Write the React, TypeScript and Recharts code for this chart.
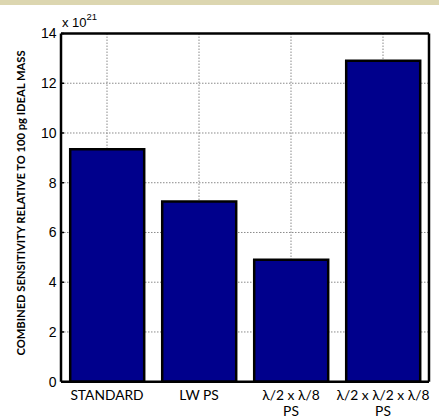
import React from 'react';
import { BarChart, Bar, XAxis, YAxis, CartesianGrid, Label } from 'recharts';

const categories = ['STANDARD', 'LW PS', 'λ/2 x λ/8\nPS', 'λ/2 x λ/2 x λ/8\nPS'];
const sensitivity = [9.35, 7.25, 4.9, 12.9];
const yTicks = [0, 2, 4, 6, 8, 10, 12, 14];
const yAxisTitle = 'COMBINED SENSITIVITY RELATIVE TO 100 pg IDEAL MASS';
const exponentBase = 'x 10';
const exponent = '21';

const data = categories.map((name, i) => ({ name, value: sensitivity[i] }));

const XTick = (props: any) => {
  const { x, y, payload } = props;
  const lines = String(payload.value).split('\n');
  return (
    <text x={x} y={y} textAnchor="middle" fill="#000" fontFamily="Lato, 'Open Sans', sans-serif" fontSize={13.8}>
      {lines.map((l, i) => (
        <tspan key={i} x={x} dy={i === 0 ? 17.8 : 16.6}>
          {l}
        </tspan>
      ))}
    </text>
  );
};

const vGen = (args: any) => {
  const { xAxis, offset } = args || {};
  try {
    const s = xAxis && xAxis.scale;
    if (s) {
      const f = typeof s === 'function' ? s : (v: any) => s.map(v);
      const bw = typeof s.bandwidth === 'function' ? s.bandwidth() : 0;
      const res = categories.map((c) => f(c) + bw / 2);
      if (res.every((v) => Number.isFinite(v))) return res;
    }
  } catch (e) {
    // fall through
  }
  const n = categories.length;
  return categories.map((_, i) => offset.left + ((i + 0.5) * offset.width) / n);
};

export default function App() {
  return (
    <div style={{ position: 'absolute', left: 0, top: 0, width: 439, height: 418, background: '#fff' }}>
      <div style={{ position: 'absolute', left: 0, top: 0, width: 439, height: 5, background: '#DCD6B0', zIndex: 2 }} />
      <BarChart
        width={439}
        height={418}
        data={data}
        margin={{ top: 0, right: 0, bottom: 0, left: 0 }}
        barCategoryGap="10%"
      >
        <CartesianGrid
          stroke="#8a8a8a"
          strokeDasharray="1.5 1.5"
          strokeWidth={1}
          verticalCoordinatesGenerator={vGen}
        />
        <XAxis
          dataKey="name"
          height={36.3}
          axisLine={{ stroke: '#000', strokeWidth: 2.5 }}
          tickLine={false}
          tickSize={0}
          tickMargin={0}
          tick={<XTick />}
          interval={0}
        />
        <XAxis
          xAxisId="top"
          orientation="top"
          dataKey="name"
          height={33.5}
          axisLine={{ stroke: '#000', strokeWidth: 2.5 }}
          tickLine={{ stroke: '#000', strokeWidth: 1.5 }}
          tickSize={-3}
          tick={false}
          interval={0}
        />
        <YAxis
          width={61}
          domain={[0, 14]}
          ticks={yTicks}
          interval={0}
          axisLine={{ stroke: '#000', strokeWidth: 2.5 }}
          tickLine={{ stroke: '#000', strokeWidth: 1.5 }}
          tickSize={-3}
          tickMargin={7.5}
          tick={{ fill: '#000', fontSize: 14, fontFamily: "'Liberation Sans', Arial, sans-serif" }}
        >
          <Label
            content={() => (
              <g>
                <text
                  x={0}
                  y={0}
                  transform="translate(24.5 203) rotate(-90)"
                  textAnchor="middle"
                  fontFamily="Lato, 'Open Sans', sans-serif"
                  fontWeight="bold"
                  fontSize={11.2}
                  fill="#000"
                >
                  {yAxisTitle}
                </text>
                <text x={62} y={27} fontFamily="'Liberation Sans', Arial, sans-serif" fontSize={13} fill="#000">
                  {exponentBase}
                  <tspan dy={-7} fontSize={9.5}>
                    {exponent}
                  </tspan>
                </text>
              </g>
            )}
          />
        </YAxis>
        <YAxis
          yAxisId="right"
          orientation="right"
          width={10}
          domain={[0, 14]}
          ticks={yTicks}
          interval={0}
          axisLine={{ stroke: '#000', strokeWidth: 2.5 }}
          tickLine={{ stroke: '#000', strokeWidth: 1.5 }}
          tickSize={-3}
          tick={false}
        />
        <Bar dataKey="value" fill="#00008C" stroke="#000" strokeWidth={2.5} isAnimationActive={false} />
      </BarChart>
    </div>
  );
}
